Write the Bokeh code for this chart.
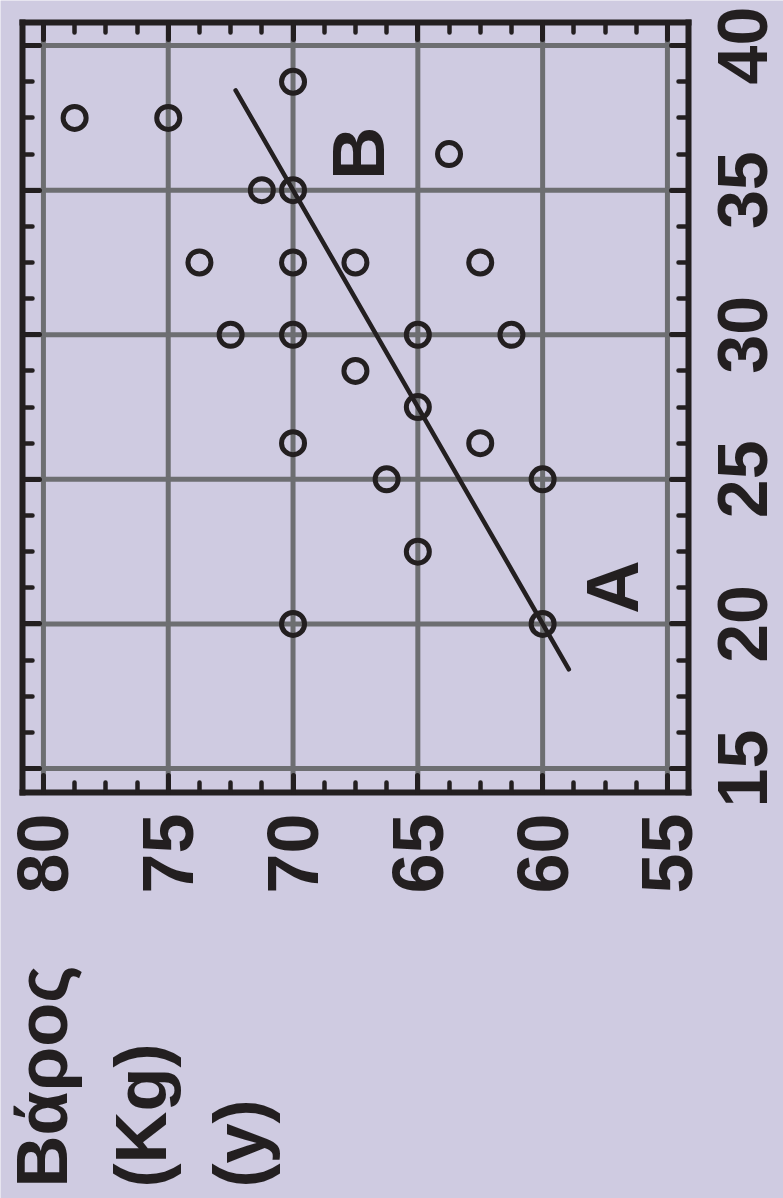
from math import pi

from bokeh.plotting import figure
from bokeh.models import (Range1d, LinearAxis, SingleIntervalTicker,
                          Label, LabelSet, ColumnDataSource)
from bokeh.core.properties import value
from bokeh.embed import file_html
from bokeh.resources import INLINE

# --- data: weight (kg) against age (years) ---
weight = [78.75, 75, 70, 63.75, 71.25, 70, 73.75, 70, 67.5, 62.5, 72.5, 70,
          65, 61.25, 67.5, 65, 70, 62.5, 66.25, 60, 65, 70, 60]
age = [37.5, 37.5, 38.75, 36.25, 35, 35, 32.5, 32.5, 32.5, 32.5, 30, 30,
       30, 30, 28.75, 27.5, 26.25, 26.25, 25, 25, 22.5, 20, 20]

# fitted straight line through A and B
fit_weight = [72.3, 58.95]
fit_age = [38.45, 18.43]

point_a = (60, 20)
point_b = (70, 35)

weight_ticks = [55, 60, 65, 70, 75, 80]
age_ticks = [15, 20, 25, 30, 35, 40]

INK = "#231f20"
BG = "#cfcbe1"
GRID = "#6d6e71"
FONT = "Liberation Sans"

# extent of the boxed plotting area (weight runs right-to-left)
BOX_W = (80.84, 54.16)
BOX_A = (14.17, 40.8)

p = figure(width=783, height=1198,
           x_range=Range1d(81.72, 50.35), y_range=Range1d(0.13, 41.56),
           x_axis_type=None, y_axis_type=None,
           output_backend="svg", toolbar_location=None,
           min_border=0)
p.background_fill_color = BG
p.border_fill_color = BG
p.outline_line_color = None


def make_ticker():
    return SingleIntervalTicker(interval=5, num_minor_ticks=4)


def box_axis(side, location, bounds, show_labels=False):
    ax = LinearAxis(ticker=make_ticker(), fixed_location=location,
                    bounds=bounds)
    ax.axis_line_color = INK
    ax.axis_line_width = 6
    ax.axis_line_cap = "square"
    ax.major_tick_in = 17
    ax.major_tick_out = 0
    ax.minor_tick_in = 10
    ax.minor_tick_out = 0
    ax.major_tick_line_color = INK
    ax.major_tick_line_width = 5
    ax.major_tick_line_cap = "round"
    ax.minor_tick_line_color = INK
    ax.minor_tick_line_width = 4.5
    ax.minor_tick_line_cap = "round"
    if show_labels:
        ax.major_label_text_font = FONT
        ax.major_label_text_font_style = "bold"
        ax.major_label_text_font_size = "72px"
        ax.major_label_text_color = INK
        ax.major_label_orientation = pi / 2
        ax.major_label_standoff = 21
    else:
        ax.major_label_text_font_size = "1px"
        ax.major_label_text_color = None
        ax.major_label_standoff = 0
    p.add_layout(ax, side)
    return ax


w_bounds = (min(BOX_W), max(BOX_W))
box_axis("below", BOX_A[0], w_bounds, show_labels=True)
box_axis("above", BOX_A[1], w_bounds)
box_axis("left", BOX_W[0], BOX_A)
box_axis("right", BOX_W[1], BOX_A)

# grid lines across the box at the major ticks
n_w, n_a = len(weight_ticks), len(age_ticks)
p.segment(x0=weight_ticks, x1=weight_ticks,
          y0=[BOX_A[0]] * n_w, y1=[BOX_A[1]] * n_w,
          line_color=GRID, line_width=5)
p.segment(x0=[BOX_W[0]] * n_a, x1=[BOX_W[1]] * n_a,
          y0=age_ticks, y1=age_ticks,
          line_color=GRID, line_width=5)

# fitted line
p.line(fit_weight, fit_age, line_color=INK, line_width=4.5, line_cap="round")

# observations
p.scatter(weight, age, marker="circle", size=23, fill_color=None,
          line_color=INK, line_width=5)

# age tick labels on the right, turned to read upwards
age_src = ColumnDataSource(dict(
    x=[BOX_W[1]] * n_a,
    y=age_ticks,
    text=[str(a) for a in age_ticks],
))
p.add_layout(LabelSet(x="x", y="y", text="text", source=age_src,
                      angle=pi / 2, x_offset=79,
                      text_align="center", text_baseline="alphabetic",
                      text_font=value(FONT), text_font_style=value("bold"),
                      text_font_size=value("70px"), text_color=value(INK)))

# point names
for name, (px, py), (dx, dy) in (("A", point_a, (70, 37)),
                                 ("B", point_b, (65, 37))):
    p.add_layout(Label(x=px, y=py, x_offset=dx, y_offset=dy, text=name,
                       angle=pi / 2, text_align="center",
                       text_baseline="alphabetic", text_font=FONT,
                       text_font_style="bold", text_font_size="74px",
                       text_color=INK))

# axis title for weight
p.add_layout(Label(x=81.67, y=0.51, text="Βάρος\n(Kg)\n(y)",
                   angle=pi / 2, text_align="left", text_baseline="top",
                   text_font=FONT, text_font_style="bold",
                   text_font_size="72px", text_line_height=1.24,
                   text_color=INK))

open("out.html", "w").write(file_html(p, INLINE))
